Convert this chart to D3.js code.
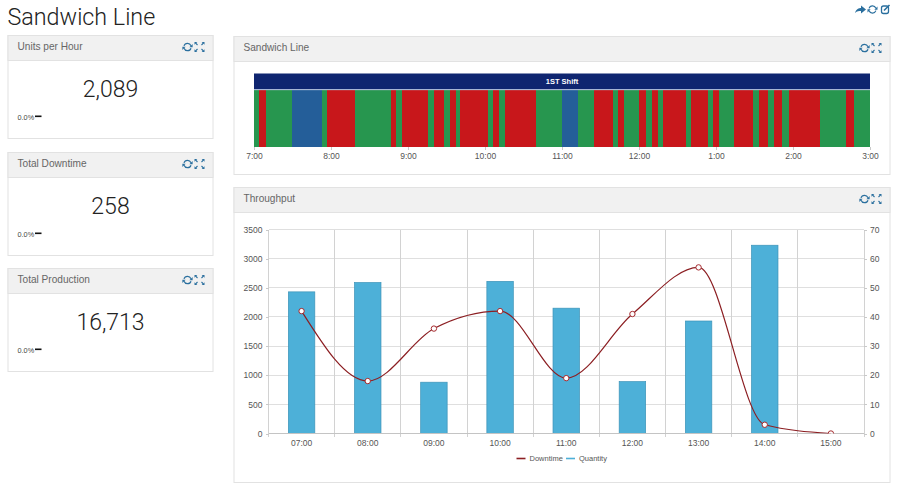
<!DOCTYPE html>
<html><head><meta charset="utf-8">
<script src="https://cdn.jsdelivr.net/npm/d3@7"></script>
<style>
html,body{margin:0;padding:0;background:#fff;overflow:hidden}
svg{display:block}
text{font-family:"Liberation Sans",Arial,sans-serif}
.axis path,.axis line{stroke:#c9c9c9;stroke-width:1;shape-rendering:crispEdges}
.axis text{fill:#555;font-size:8.5px;font-family:"Liberation Sans",Arial,sans-serif}
</style></head><body>
<svg id="c" width="900" height="490"></svg>
<script>
// ---- data ----
const pageTitle = "Sandwich Line";
const kpiTitles = ["Units per Hour", "Total Downtime", "Total Production"];
const kpiValues = ["2,089", "258", "16,713"];
const kpiChange = ["0.0%", "0.0%", "0.0%"];
const shiftLabel = "1ST Shift";
const timelineTicks = ["7:00","8:00","9:00","10:00","11:00","12:00","1:00","2:00","3:00"];
// segment boundaries in minutes after 7:00 and the state of each segment
const segStarts = [0,4.2,9.6,29.9,53.2,57.1,78.7,107,110.9,115.3,135.6,140.5,148.3,153,157.1,160.8,182.3,186.5,190.9,195.6,220,240,252.5,265.2,280,283.6,288,300.3,305.5,310,315,319,337,340.8,354,358,362,374.3,388.6,393.5,400.8,405.5,411.7,416.6,441,461.3,467.3];
const segEnd = 480;
const segStates = "g r g b g r g r g r g r g r g r g r g r g b g r g r g r g r g r g r g r g r g r g r g r g r g".split(" ");
const hours = ["07:00","08:00","09:00","10:00","11:00","12:00","13:00","14:00","15:00"];
const quantity = [2430,2590,880,2610,2150,890,1930,3230,0];
const downtime = [42,18,36,42,19,41,57,3,0];
const leftTicks = [0,500,1000,1500,2000,2500,3000,3500];
const rightTicks = [0,10,20,30,40,50,60,70];
const legendNames = ["Downtime","Quantity"];
// ---- colours ----
const stateColor = {g:"#27964f", r:"#c8171b", b:"#245e99"};
const iconBlue = "#2a6f9e";
const svg = d3.select("#c");

svg.append("text").attr("x",7.5).attr("y",25).attr("font-size",23.3)
  .attr("fill","#222").attr("style",'font-family:Roboto,sans-serif;font-weight:300').text(pageTitle);

function refreshIcon(g,x,y,r){
  const a=d3.arc().innerRadius(r-1.2).outerRadius(r);
  const n=g.append("g").attr("transform",`translate(${x},${y})`);
  n.append("path").attr("d",a({startAngle:-1.25,endAngle:1.2})).attr("fill",iconBlue);
  n.append("path").attr("d",a({startAngle:1.9,endAngle:4.35})).attr("fill",iconBlue);
  n.append("path").attr("d",`M${r+.8},${-3}L${r+.8},${.3}L${r-2.4},${.3}Z`).attr("fill",iconBlue);
  n.append("path").attr("d",`M${-r-.8},${3}L${-r-.8},${-.3}L${-r+2.4},${-.3}Z`).attr("fill",iconBlue);
}
function expandIcon(g,x,y){
  const n=g.append("g").attr("transform",`translate(${x},${y})`);
  [[-1,-1],[1,-1],[-1,1],[1,1]].forEach(([sx,sy])=>{
    n.append("path").attr("d",`M${sx*5},${sy*5}L${sx*2.2},${sy*5}L${sx*5},${sy*2.2}Z`).attr("fill",iconBlue);
    n.append("path").attr("d",`M${sx*3.8},${sy*3.8}L${sx*2},${sy*2}`).attr("stroke",iconBlue).attr("stroke-width",1.1);
  });
}
function panel(x,y,w,h,title){
  const g=svg.append("g");
  g.append("rect").attr("x",x+.5).attr("y",y+.5).attr("width",w-1).attr("height",h-1)
    .attr("fill","#fff").attr("stroke","#e2e2e2");
  g.append("rect").attr("x",x+.5).attr("y",y+.5).attr("width",w-1).attr("height",25)
    .attr("fill","#f1f1f1").attr("stroke","#e2e2e2");
  g.append("text").attr("x",x+10).attr("y",y+15).attr("font-size",10.1).attr("fill","#666").text(title);
  refreshIcon(g,x+w-26,y+12,4.3);
  expandIcon(g,x+w-14,y+12);
  return g;
}
// page-level icons
const pageIcons = svg.append("g");
pageIcons.append("path").attr("d","M855,13 C856,9 859,8 861,8 L861,5.5 L866,9.5 L861,13.5 L861,11 C859,11 857,11 855,13Z").attr("fill",iconBlue);
refreshIcon(pageIcons,872.5,9.5,4.2);
pageIcons.append("rect").attr("x",881.5).attr("y",6).attr("width",7).attr("height",7.5).attr("rx",2).attr("fill","none").attr("stroke",iconBlue).attr("stroke-width",1.3);
pageIcons.append("path").attr("d","M884,10.5L889.5,5").attr("stroke",iconBlue).attr("stroke-width",1.6);

// KPI panels
const kpiY = [35,152,268], kpiH = [104,104,104];
kpiTitles.forEach((t,i)=>{
  const g=panel(7.5,kpiY[i],206,kpiH[i],t);
  g.append("text").attr("x",110.5).attr("y",kpiY[i]+62).attr("text-anchor","middle")
   .attr("font-size",23).attr("fill","#222").attr("style",'font-family:Roboto,sans-serif;font-weight:300').text(kpiValues[i]);
  g.append("text").attr("x",17.5).attr("y",kpiY[i]+84.5).attr("font-size",7.3).attr("fill","#444").text(kpiChange[i]);
  g.append("rect").attr("x",35).attr("y",kpiY[i]+80.5).attr("width",6.5).attr("height",1.6).attr("fill","#111");
});

// timeline panel
panel(233.5,36,657,139,"Sandwich Line");
const tx = d3.scaleLinear().domain([0,segEnd]).range([254,870]);
const tl = svg.append("g");
tl.append("rect").attr("x",tx(0)).attr("y",73.5).attr("width",tx(segEnd)-tx(0)).attr("height",16)
  .attr("fill","#0f2570");
tl.append("text").attr("x",(tx(0)+tx(segEnd))/2).attr("y",84.3).attr("text-anchor","middle")
  .attr("font-size",7.5).attr("font-weight","bold").attr("fill","#fff").text(shiftLabel);
tl.selectAll("rect.seg").data(segStarts).join("rect").attr("class","seg")
  .attr("x",d=>tx(d)).attr("y",90).attr("shape-rendering","crispEdges")
  .attr("width",(d,i)=>tx(i+1<segStarts.length?segStarts[i+1]:segEnd)-tx(d)).attr("height",56.5)
  .attr("fill",(d,i)=>stateColor[segStates[i]]);
tl.append("line").attr("x1",tx(0)).attr("x2",tx(segEnd)).attr("y1",89.7).attr("y2",89.7).attr("stroke","#b9c8e4").attr("stroke-width",.8);
const tAxis = d3.axisBottom(tx).tickValues(timelineTicks.map((d,i)=>i*60))
  .tickFormat((d,i)=>timelineTicks[i]).tickSize(3).tickPadding(3);
svg.append("g").attr("class","axis").attr("transform","translate(0,146.5)").call(tAxis)
   .call(g=>g.select(".domain").remove());

// throughput panel
panel(233.5,187,657,296,"Throughput");
const L=268.5,R=864,T=229.5,B=433.5;
const xb = d3.scaleBand().domain(hours).range([L,R]);
const yl = d3.scaleLinear().domain([0,3500]).range([B,T]);
const yr = d3.scaleLinear().domain([0,70]).range([B,T]);
const grid = svg.append("g").attr("stroke","#dfdfdf").attr("shape-rendering","crispEdges");
leftTicks.forEach(v=>grid.append("line").attr("x1",L).attr("x2",R).attr("y1",yl(v)).attr("y2",yl(v)));
d3.range(hours.length+1).forEach(i=>{
  const x=L+i*xb.step();
  grid.append("line").attr("x1",x).attr("x2",x).attr("y1",T).attr("y2",B+3).attr("stroke","#d2d2d2");
});
const bw = xb.step()*0.4;
svg.append("g").selectAll("rect").data(quantity).join("rect")
  .attr("x",(d,i)=>xb(hours[i])+xb.step()/2-bw/2).attr("y",d=>yl(d))
  .attr("width",bw).attr("height",d=>B-yl(d))
  .attr("fill","#4db0d8").attr("stroke","#3d93b8").attr("stroke-width",.7)
  .attr("display",d=>d>0?null:"none");
svg.append("g").attr("class","axis").attr("transform",`translate(${L},0)`)
  .call(d3.axisLeft(yl).tickValues(leftTicks).tickFormat(d3.format("d")).tickSize(3).tickPadding(3))
  .call(g=>g.select(".domain").remove());
svg.append("g").attr("class","axis").attr("transform",`translate(${R},0)`)
  .call(d3.axisRight(yr).tickValues(rightTicks).tickSize(3).tickPadding(3))
  .call(g=>g.select(".domain").remove());
svg.append("g").attr("class","axis").attr("transform",`translate(0,${B})`)
  .call(d3.axisBottom(xb).tickSize(0).tickPadding(6))
  .call(g=>g.select(".domain").remove());
svg.append("line").attr("x1",L).attr("x2",R).attr("y1",B).attr("y2",B).attr("stroke","#c4c4c4").attr("shape-rendering","crispEdges");
// the line and its markers are clipped at the plot's bottom edge
svg.append("clipPath").attr("id","plotClip").append("rect").attr("x",L).attr("y",T-5).attr("width",R-L).attr("height",B-T+5);
const cx=(d,i)=>xb(hours[i])+xb.step()/2;
const line=d3.line().x(cx).y(d=>yr(d)).curve(d3.curveMonotoneX);
const lineG=svg.append("g").attr("clip-path","url(#plotClip)");
lineG.append("path").datum(downtime).attr("d",line).attr("fill","none").attr("stroke","#8c1f23").attr("stroke-width",1.2);
lineG.append("g").selectAll("circle").data(downtime).join("circle")
  .attr("cx",cx).attr("cy",d=>yr(d)).attr("r",2.7)
  .attr("fill","#fff").attr("stroke","#a52a2e").attr("stroke-width",1);
// legend
const lg=svg.append("g");
[[516.5,"#8c1f23"],[566,"#4db0d8"]].forEach(([x,col],i)=>{
  lg.append("line").attr("x1",x).attr("x2",x+9).attr("y1",458.5).attr("y2",458.5).attr("stroke",col).attr("stroke-width",1.6);
  lg.append("text").attr("x",x+13).attr("y",461).attr("font-size",7.5).attr("fill","#555").text(legendNames[i]);
});
</script></body></html>
